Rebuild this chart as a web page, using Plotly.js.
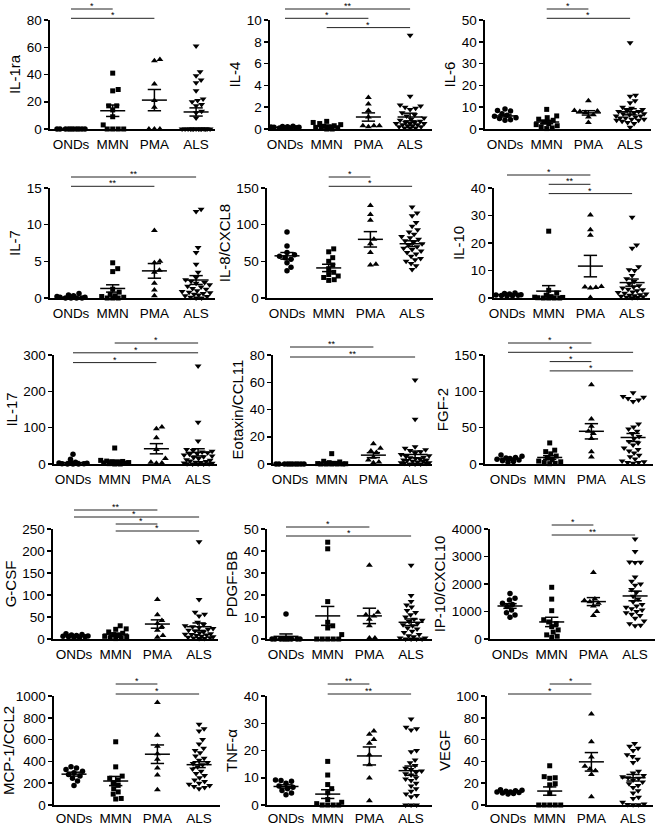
<!DOCTYPE html>
<html><head><meta charset="utf-8">
<script src="https://cdn.plot.ly/plotly-3.0.1.min.js"></script>
<style>html,body{margin:0;padding:0;background:#fff}#chart{width:657px;height:826px}</style>
</head><body><div id="chart"></div>
<script>
const groups = ['ONDs', 'MMN', 'PMA', 'ALS'];
const titles = ['IL-1ra', 'IL-4', 'IL-6', 'IL-7', 'IL-8/CXCL8', 'IL-10', 'IL-17', 'Eotaxin/CCL11', 'FGF-2',
  'G-CSF', 'PDGF-BB', 'IP-10/CXCL10', 'MCP-1/CCL2', 'TNF-α', 'VEGF'];
const yMax = [80, 10, 50, 15, 150, 40, 300, 80, 150, 250, 50, 4000, 1000, 40, 100];
const yStep = [20, 2, 10, 5, 50, 10, 100, 20, 50, 50, 10, 1000, 200, 10, 20];

// values per group: [ONDs, MMN, PMA, ALS]
const il1ra = [
  [0, 0, 0, 0, 0, 0, 0, 0, 0, 0],
  [41, 29, 28, 17, 17, 14, 9, 3, 0, 0, 0, 0],
  [51, 50, 33, 21, 16, 0, 0, 0],
  [61, 42, 39, 36, 34, 28, 22, 21, 20, 18, 17, 13, 12, 8, 0, 0, 0, 0, 0, 0, 0, 0, 0, 0, 0, 0, 0, 0]];
const il4 = [
  [0.25, 0.22, 0.2, 0.18, 0.15, 0.15, 0.12, 0.1, 0.1, 0.08],
  [0.7, 0.6, 0.5, 0.4, 0.3, 0.25, 0.2, 0.15, 0.1, 0.05, 0, 0],
  [2.9, 2.3, 1.7, 1.1, 0.3, 0.3, 0.2, 0.3],
  [8.6, 3.0, 2.2, 2.1, 2.0, 1.9, 1.8, 1.5, 1.3, 1.2, 1.0, 0.9, 0.8, 0.7, 0.6, 0.6, 0.5, 0.5, 0.5, 0.4, 0.4, 0.3, 0.3, 0.2, 0.2, 0.1, 0.1, 0.1]];
const il6 = [
  [9.2, 8.5, 8.2, 7.0, 6.3, 5.8, 5.2, 4.8, 4.3, 4.0],
  [9.0, 6.0, 5.2, 4.5, 4.0, 3.2, 2.5, 2.0, 1.5, 1.0, 0.5, 0.2],
  [13, 8.5, 8.2, 8.0, 7.6, 6.5, 5.5, 3.0],
  [39.6, 15.5, 15, 13, 12, 10, 9.5, 9, 8.5, 8, 8, 7.5, 7, 7, 6.5, 6, 6, 5.5, 5, 5, 4.5, 4.5, 4, 4, 3.5, 3, 2.5, 0.8]];
const il7 = [
  [0.6, 0.4, 0.3, 0.2, 0.1, 0.1, 0, 0, 0, 0],
  [4.8, 4.0, 3.6, 1.2, 0.8, 0.5, 0.3, 0.2, 0.1, 0, 0, 0],
  [9.2, 5.0, 4.8, 3.8, 3.5, 2.0, 1.1, 0.3],
  [12.1, 11.8, 6.9, 6.2, 4.6, 3.5, 2.8, 2.5, 2.3, 2.1, 2.0, 1.8, 1.6, 1.5, 1.3, 1.2, 1.0, 0.9, 0.8, 0.7, 0.6, 0.5, 0.4, 0.3, 0.2, 0.1, 0, 0]];
const il8 = [
  [90, 71, 62, 59, 57, 55, 53, 48, 42, 37],
  [67, 63, 55, 50, 45, 40, 35, 32, 30, 28, 25, 24],
  [126, 114, 106, 80, 74, 62, 46, 45],
  [124, 116, 112, 103, 98, 93, 90, 87, 84, 82, 80, 78, 76, 74, 72, 70, 68, 66, 64, 62, 60, 57, 54, 52, 50, 47, 44, 39]];
const il10 = [
  [1.8, 1.6, 1.5, 1.3, 1.2, 1.1, 1.0, 0.9, 0.8, 0.7],
  [24.3, 2.8, 1.8, 1.0, 0.5, 0.3, 0.2, 0.1, 0, 0, 0, 0],
  [30.2, 24.8, 22.8, 4.2, 4.0, 3.8, 3.6, 0.2],
  [29.4, 19.3, 18.1, 11.4, 10.3, 10.0, 8.2, 7.0, 6.0, 5.2, 4.5, 4.0, 3.6, 3.2, 3.0, 2.6, 2.2, 2.0, 1.7, 1.5, 1.2, 1.0, 0.8, 0.6, 0.5, 0.3, 0.2, 0.1]];
const il17 = [
  [27, 13, 5, 3, 2, 1, 1, 0, 0, 0],
  [44, 10, 8, 7, 6, 5, 4, 3, 2, 1, 0, 0],
  [102, 97, 72, 40, 15, 5, 3, 2],
  [270, 115, 63, 40, 37, 35, 33, 31, 29, 27, 25, 22, 20, 18, 15, 12, 10, 8, 7, 5, 4, 3, 2, 1, 1, 0, 0, 0]];
const eotaxin = [
  [0, 0, 0, 0, 0, 0, 0, 0, 0, 0],
  [7.6, 2.0, 1.5, 1.0, 0.5, 0.3, 0.2, 0, 0, 0, 0, 0],
  [14.9, 11.5, 9.5, 8.5, 5, 3, 1.5, 1],
  [61.6, 32.8, 12.7, 11.5, 10.5, 10, 9, 8, 7, 6, 5.5, 5, 4.5, 4, 3.5, 3, 3, 2.5, 2, 2, 1.5, 1, 1, 0.5, 0.5, 0, 0, 0]];
const fgf2 = [
  [12.3, 10.5, 9.0, 8.2, 7.5, 6.5, 5.5, 4.5, 3.5, 2.5],
  [29, 19, 17, 14, 11, 8, 6, 4, 3, 2, 1, 0.5],
  [109, 62, 52, 45, 42, 35, 17, 9.5],
  [98, 93, 92, 90, 88, 86, 55, 51, 48, 45, 42, 38, 35, 31, 29, 26, 22, 20, 18, 15, 12, 10, 7, 4, 3, 2, 2, 1]];
const gcsf = [
  [12, 10, 9, 8, 7, 6, 5, 5, 4, 3],
  [30, 23, 22, 16, 13, 10, 8, 6, 5, 3, 2, 1],
  [90, 55, 42, 35, 28, 20, 8, 4],
  [221, 90, 61, 56, 52, 38, 33, 30, 28, 26, 24, 22, 20, 18, 16, 14, 12, 11, 10, 9, 8, 6, 5, 4, 3, 2, 1, 1]];
const pdgfbb = [
  [11.4, 0, 0, 0, 0, 0, 0, 0, 0, 0],
  [44, 41, 17, 7.6, 6, 5, 2, 0, 0, 0, 0, 0],
  [33.5, 12.2, 11, 10.5, 9, 6, 0.5, 0.5],
  [33.5, 19.8, 17, 15.5, 14.5, 13, 12, 11, 10, 9, 8.5, 8, 7, 6.5, 6, 5, 4.5, 3.5, 3, 2, 1.5, 1, 0.5, 0.5, 0, 0, 0, 0]];
const ip10 = [
  [1650, 1480, 1420, 1300, 1250, 1180, 1050, 950, 870, 790],
  [1880, 1450, 1030, 700, 620, 560, 450, 330, 250, 150, 100, 60],
  [2420, 1450, 1400, 1350, 1300, 1200, 1000, 850],
  [3640, 3180, 2800, 2790, 2780, 2250, 2100, 2000, 1950, 1800, 1700, 1550, 1450, 1350, 1250, 1200, 1150, 1100, 1050, 1000, 950, 900, 850, 750, 650, 550, 500, 480]];
const mcp1 = [
  [350, 340, 325, 310, 295, 280, 265, 245, 220, 180],
  [580, 350, 265, 245, 230, 205, 180, 150, 120, 100, 60, 55],
  [940, 640, 540, 470, 420, 340, 275, 140],
  [740, 700, 680, 600, 560, 520, 500, 480, 450, 430, 410, 390, 380, 370, 350, 330, 310, 290, 270, 250, 230, 215, 200, 190, 180, 170, 160, 150]];
const tnfa = [
  [9.2, 9.0, 8.7, 8.0, 7.0, 6.5, 6.0, 5.3, 4.4, 3.8],
  [16, 11, 7.5, 6, 4.5, 2, 1, 0.5, 0, 0, 0, 0],
  [27.2, 26, 24, 22.7, 18.4, 14.8, 9.9, 1.6],
  [31.6, 28.5, 28, 27.5, 20, 19.5, 16.5, 15.5, 14.5, 13.5, 13, 12.5, 12, 11.5, 11, 10, 9.5, 9, 8, 7, 6, 5, 4, 3.5, 3, 0, 0, 0]];
const vegf = [
  [14, 13.5, 13, 12.5, 12, 12, 11.5, 11, 10.5, 10],
  [36, 26, 25, 24.5, 19.5, 18.5, 10.5, 0, 0, 0, 0, 0],
  [83.5, 58, 44, 35.5, 33, 31.5, 28, 7.5],
  [56.4, 54, 52, 50, 46, 44.5, 42, 39, 31, 29.3, 27, 26, 25, 24.5, 23, 21, 19.5, 18, 16, 13, 11, 7, 6, 2.5, 1, 0.5, 0.3, 0.2]];
const values = [il1ra, il4, il6, il7, il8, il10, il17, eotaxin, fgf2, gcsf, pdgfbb, ip10, mcp1, tnfa, vegf];

// mean and SEM, per group [ONDs, MMN, PMA, ALS]
const means = [
  [0, 13.4, 21.2, 12.5], [0.15, 0.25, 1.1, 1.1], [6.0, 3.2, 7.4, 7.9], [0.1, 1.3, 3.7, 2.45], [57.5, 41, 80, 74],
  [1.2, 2.5, 11.6, 5.6], [4, 7, 42, 32], [0, 1, 6.5, 7], [7, 9, 45, 36.5], [7, 11, 34, 28],
  [1.2, 10.5, 10.5, 7.6], [1200, 620, 1360, 1565], [283, 220, 466, 370], [6.8, 4, 18, 12.6], [12, 12.8, 39.6, 25]];
const sems = [
  [0, 4.2, 7.8, 3.0], [0.02, 0.08, 0.38, 0.35], [0.5, 0.8, 1.0, 1.4], [0.07, 0.5, 1.0, 0.6], [4.5, 5, 10.5, 4],
  [0.15, 2.0, 3.9, 1.3], [2.7, 3.5, 14, 10], [0, 0.6, 1.8, 2.5], [1, 2.5, 10.5, 5.5], [1, 2.5, 9.5, 8.5],
  [1.1, 4.3, 3.5, 1.5], [85, 170, 145, 175], [18, 42, 85, 27], [0.6, 1.6, 3.3, 1.7], [0.5, 3.8, 8.5, 3]];

// significance comparisons [from group, to group, label], top bar first
const sig = [
  [[0, 1, '*'], [0, 2, '*']],
  [[0, 3, '**'], [0, 2, '*'], [1, 3, '*']],
  [[1, 2, '*'], [1, 3, '*']],
  [[0, 3, '**'], [0, 2, '**']],
  [[1, 2, '*'], [1, 3, '*']],
  [[0, 2, '*'], [1, 2, '**'], [1, 3, '*']],
  [[1, 3, '*'], [0, 3, '*'], [0, 2, '*']],
  [[0, 2, '**'], [0, 3, '**']],
  [[0, 2, '*'], [0, 3, '*'], [1, 2, '*'], [1, 3, '*']],
  [[0, 2, '**'], [0, 3, '*'], [1, 2, '*'], [1, 3, '*']],
  [[0, 2, '*'], [0, 3, '*']],
  [[1, 2, '*'], [1, 3, '**']],
  [[1, 2, '*'], [1, 3, '*']],
  [[1, 2, '**'], [1, 3, '**']],
  [[1, 2, '*'], [0, 2, '*']]];

// ---------- layout geometry (pixels) ----------
const W = 657, H = 826, P = 41.7;
const rowTop = [20, 188, 355, 529, 696], rowBot = [129, 298, 464, 639, 805];
const labelGap = [2, 2, 2, 2, 0];
const axStart = [50, 270, 485, 50, 267, 494, 54, 273, 485, 53, 267, 490, 54, 267, 487];
const axEnd = [215, 432, 651, 215, 433, 650, 217, 432, 653, 218, 432, 655, 220, 432, 653];
const cat0 = [71, 285, 505, 71, 287, 507, 73, 290, 508, 74, 286, 510, 74, 286, 508];
const sigTop = [11, 11, 11, 11, 11, 13, 12, 8, 12, 19, 2, 4, 12, 12, 12];
const sigStep = [9.3, 9.3, 9.3, 9.3, 9.3, 9.3, 9.8, 10, 9.3, 7, 9, 10, 10, 10, 10];
const starShift = {9: {1: -3, 2: 4}};   // small horizontal nudges (px) of crowded asterisks

const FONT = 'Arial, "Liberation Sans", Helvetica, sans-serif';
const symbols = ['circle', 'square', 'triangle-up', 'triangle-down'];
const sizes = [5.5, 5, 6, 6];

// collision-based beeswarm: returns horizontal offsets (category units)
function swarm(vals, ymax, hpx) {
  const ppu = hpx / ymax, D = 5.4, maxHalf = 14;
  const idx = vals.map((v, i) => i).sort((a, b) => vals[a] - vals[b]);
  const off = new Array(vals.length).fill(0);
  const cands = [0];
  for (let c = 0.5; c <= maxHalf + 1e-9; c += 0.5) cands.push(c, -c);
  const placed = [];
  idx.forEach(i => {
    const y = vals[i] * ppu;
    let best = 0, bestScore = -1;
    for (const c of cands) {
      let md = Infinity;
      for (const q of placed) {
        const d = Math.hypot(q[0] - c, q[1] - y);
        if (d < md) md = d;
      }
      if (md >= D) { best = c; bestScore = Infinity; break; }
      if (md > bestScore + 0.05) { bestScore = md; best = c; }
    }
    placed.push([best, y]);
    off[i] = best / P;
  });
  return off;
}

const traces = [], shapes = [], annotations = [];
const layout = {
  width: W, height: H, margin: {l: 0, r: 0, t: 0, b: 0}, showlegend: false,
  paper_bgcolor: '#fff', plot_bgcolor: '#fff', font: {family: FONT, color: '#000', size: 13},
  shapes: shapes, annotations: annotations
};

for (let p = 0; p < 15; p++) {
  const r = Math.floor(p / 3);
  const sfx = p === 0 ? '' : String(p + 1);
  const xa = 'x' + sfx, ya = 'y' + sfx;
  const hpx = rowBot[r] - rowTop[r];
  layout['xaxis' + sfx] = {
    domain: [axStart[p] / W, axEnd[p] / W], anchor: ya,
    range: [(axStart[p] - cat0[p]) / P, (axEnd[p] - cat0[p]) / P],
    tickvals: [0, 1, 2, 3], ticktext: groups, ticks: '', showgrid: false, zeroline: false,
    showline: true, linecolor: '#000', linewidth: 1.6, tickfont: {size: 13.5, family: FONT, color: '#000'},
    ticklabelstandoff: labelGap[r], fixedrange: true
  };
  layout['yaxis' + sfx] = {
    domain: [1 - rowBot[r] / H, 1 - rowTop[r] / H], anchor: xa,
    range: [0, yMax[p]], dtick: yStep[p], tick0: 0, ticks: 'outside', ticklen: 4, tickwidth: 1.5,
    tickcolor: '#000', showgrid: false, zeroline: false, showline: true, linecolor: '#000', linewidth: 1.6,
    tickfont: {size: 13.5, family: FONT, color: '#000'}, fixedrange: true,
    title: {text: titles[p], font: {size: 15, family: FONT, color: '#000'}, standoff: 2}
  };
  const data = values[p];
  for (let g = 0; g < 4; g++) {
    const off = swarm(data[g], yMax[p], hpx);
    traces.push({
      type: 'scatter', mode: 'markers', xaxis: xa, yaxis: ya, cliponaxis: false,
      x: data[g].map((v, i) => g + off[i]), y: data[g],
      marker: {symbol: symbols[g], size: sizes[g], color: '#000', line: {width: 0}},
      hoverinfo: 'skip'
    });
  }
  const lx = [], ly = [];
  for (let g = 0; g < 4; g++) {
    const m = means[p][g], s = sems[p][g];
    lx.push(g - 0.3, g + 0.3, null, g - 0.16, g + 0.16, null, g - 0.16, g + 0.16, null, g, g, null);
    ly.push(m, m, null, m + s, m + s, null, m - s, m - s, null, m - s, m + s, null);
  }
  traces.push({
    type: 'scatter', mode: 'lines', xaxis: xa, yaxis: ya, cliponaxis: false, x: lx, y: ly,
    line: {color: '#000', width: 1.5}, hoverinfo: 'skip', connectgaps: false
  });
  sig[p].forEach((c, k) => {
    const lvl = 1 + (sigTop[p] - k * sigStep[p]) / hpx;
    shapes.push({
      type: 'line', xref: xa, yref: ya + ' domain', x0: c[0], x1: c[1], y0: lvl, y1: lvl,
      line: {color: '#222', width: 1}
    });
    const dx = (starShift[p] && starShift[p][k]) || 0;
    annotations.push({
      xref: xa, yref: ya + ' domain', x: (c[0] + c[1]) / 2, y: lvl, yanchor: 'bottom', yshift: -3, xshift: dx,
      text: c[2], showarrow: false, font: {size: 9, family: FONT, color: '#000'}, borderpad: 0
    });
  });
}

Plotly.newPlot('chart', traces, layout, {displayModeBar: false, staticPlot: true});
</script>
</body></html>
